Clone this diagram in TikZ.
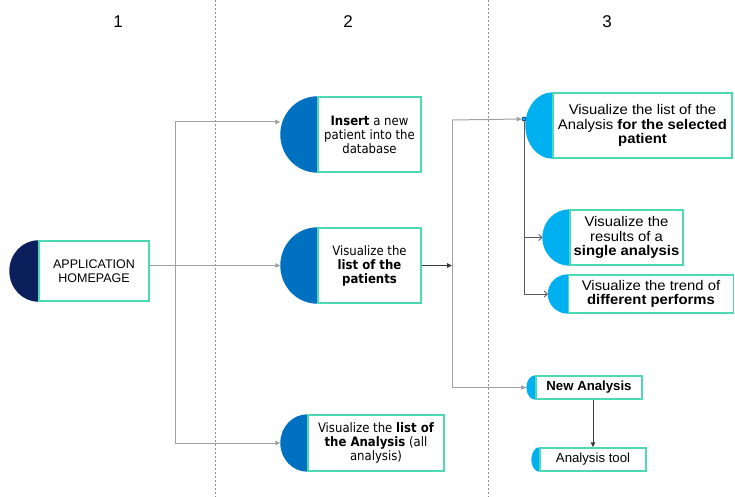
\documentclass[tikz,border=0pt]{standalone}
\usepackage{fontspec}
\setmainfont{Liberation Sans}
\newfontfamily\tahfont{DejaVu Sans Condensed}
\newfontfamily\arwide[FakeStretch=1.06]{Liberation Sans}
\usetikzlibrary{arrows.meta,calc}

\definecolor{navy}{HTML}{0B1F5C}
\definecolor{midblue}{HTML}{0070C0}
\definecolor{skyblue}{HTML}{00B0F0}
\definecolor{boxline}{HTML}{4DD9B4}
\definecolor{lightconn}{HTML}{A0A0A0}
\definecolor{darkconn}{HTML}{3A3A3A}
\definecolor{treeconn}{HTML}{595959}
\definecolor{sepline}{HTML}{8C8C8C}

\pgfdeclarelayer{background}
\pgfsetlayers{background,main}

% half-disc cap on the west side of a box: node, x radius, colour
\newcommand\DrawCap[3]{%
  \begin{pgfonlayer}{background}
    \fill[#3] let \p1=(#1.north west), \p2=(#1.south west) in
      (\p1) arc[start angle=90, end angle=270, x radius=#2pt, y radius={(\y1-\y2)/2}];
  \end{pgfonlayer}
  \coordinate (#1-d) at ([xshift=-#2pt]#1.west);
}

\tikzset{
  box/.style={draw=boxline, line width=1.4pt, fill=white, inner sep=0pt, align=center},
  colone/.style={font=\fontsize{12.5}{14}\selectfont},
  coltwo/.style={font=\tahfont\fontsize{13}{14}\selectfont},
  colthree/.style={font=\arwide\fontsize{14}{14.3}\selectfont},
  small/.style={font=\fontsize{13.2}{14}\selectfont},
  gconn/.style={draw=lightconn, line width=1pt},
  dconn/.style={draw=darkconn, line width=1pt},
  tree/.style={draw=treeconn, line width=0.9pt},
  gtip/.tip={Triangle[length=5pt,width=4.5pt]},
  otip/.tip={Straight Barb[length=3pt,width=6pt]},
  sep/.style={draw=sepline, line width=0.8pt, dash pattern=on 2pt off 2pt},
  colnum/.style={font=\fontsize{17}{20}\selectfont}
}

\begin{document}
\begin{tikzpicture}[x=1pt,y=-1pt]
  \begin{pgfonlayer}{background}
    \fill[white] (0,0) rectangle (735,497);
  \end{pgfonlayer}
  \useasboundingbox (0,0) rectangle (735,497);

  % column separators and headings
  \draw[sep] (215,0) -- (215,497);
  \draw[sep] (488,0) -- (488,497);
  \node[colnum] (n1) at (118,22) {1};
  \node[colnum] (n2) at (348,22) {2};
  \node[colnum] (n3) at (607,22) {3};

  % column 1
  \node[box, colone, minimum width=110pt, minimum height=60pt] (home) at (94,271)
    {APPLICATION\\HOMEPAGE};
  \DrawCap{home}{29}{navy}

  % column 2
  \node[box, coltwo, minimum width=103pt, minimum height=75pt] (ins) at (369.5,134.5)
    {\textbf{Insert} a new\\patient into the\\database};
  \DrawCap{ins}{37}{midblue}
  \node[box, coltwo, minimum width=103pt, minimum height=75pt] (pat) at (369.5,265.5)
    {Visualize the\\\textbf{list of the}\\\textbf{patients}};
  \DrawCap{pat}{37}{midblue}
  \node[box, coltwo, minimum width=136pt, minimum height=56pt] (lan) at (376,443)
    {Visualize the \textbf{list of}\\\textbf{the Analysis} (all\\analysis)};
  \DrawCap{lan}{27}{midblue}

  % column 3
  \node[box, colthree, minimum width=179pt, minimum height=65pt] (sel) at (642.5,125.5)
    {Visualize the list of the\\Analysis \textbf{for the selected}\\\textbf{patient}};
  \DrawCap{sel}{27}{skyblue}
  \node[box, colthree, minimum width=113pt, minimum height=55pt] (sing) at (626.5,237.5)
    {Visualize the\\results of a\\\textbf{single analysis}};
  \DrawCap{sing}{27}{skyblue}
  \node[box, colthree, minimum width=165pt, minimum height=38pt] (trend) at (651,294)
    {Visualize the trend of\\\textbf{different performs}};
  \DrawCap{trend}{20}{skyblue}
  \node[box, small, minimum width=106pt, minimum height=23pt] (new) at (589,387.5)
    {\textbf{New Analysis}};
  \DrawCap{new}{9}{skyblue}
  \node[box, small, minimum width=106pt, minimum height=23pt] (tool) at (593,459.5)
    {Analysis tool};
  \DrawCap{tool}{8}{skyblue}

  % branch points
  \coordinate (trT) at (175,122);
  \coordinate (hubT) at (452,120);
  \node[circle, draw=navy, fill=skyblue, line width=0.6pt, inner sep=0pt, minimum size=4pt] (root) at (524,119) {};

  % home to column 2
  \draw[gconn, -gtip] (home.east |- pat-d) -- (pat-d);
  \draw[gconn] (trT) -- (trT |- lan-d);
  \draw[gconn, -gtip] (trT) -- (trT -| ins-d);
  \draw[gconn, -gtip] (trT |- lan-d) -- (lan-d);

  % patients list to column 3
  \draw[dconn, -gtip] (pat.east) -- (pat.east -| hubT);
  \draw[gconn] (hubT) -- (hubT |- new-d);
  \draw[gconn, -gtip] (hubT) -- (root.west);
  \draw[gconn, -gtip] (hubT |- new-d) -- (new-d);

  % analysis views
  \draw[tree] (root.south) -- (root.south |- trend-d);
  \draw[tree, -otip] (root.south |- sing-d) -- (sing-d);
  \draw[tree, -otip] (root.south |- trend-d) -- (trend-d);

  % new analysis opens the tool
  \draw[dconn, -gtip] (tool.north |- new.south) -- (tool.north);
\end{tikzpicture}
\end{document}
